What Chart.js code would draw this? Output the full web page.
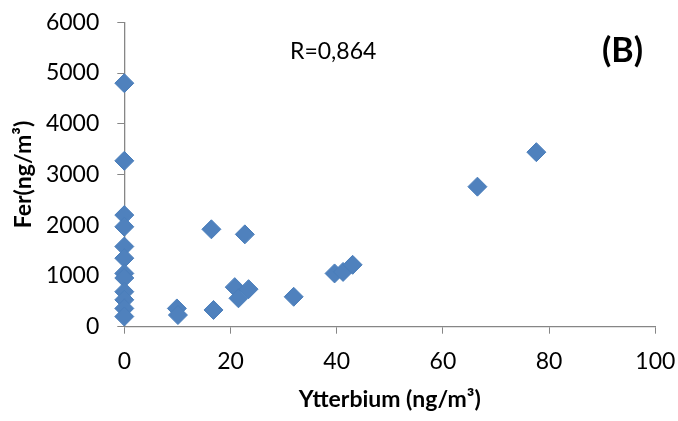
<!DOCTYPE html>
<html>
<head>
<meta charset="utf-8">
<style>
  html, body { margin: 0; padding: 0; background: #fff; }
  #wrap { width: 678px; height: 421px; }
</style>
<script src="https://cdn.jsdelivr.net/npm/chart.js"></script>
</head>
<body>
<div id="wrap"><canvas id="chart" width="678" height="421"></canvas></div>
<script>
// Ytterbium vs iron concentrations (ng/m3)
const ytterbium = [
    0, 0, 0, 0, 0, 0, 0, 0, 0, 0, 0, 0,
    9.9, 10.1, 16.4, 16.8, 22.7, 20.8, 21.5, 23.4, 31.9,
    39.6, 41.2, 43.0, 66.5, 77.6
];
const fer = [
    4800, 3270, 2200, 1970, 1580, 1350, 1050, 960, 690, 530, 360, 200,
    360, 230, 1920, 330, 1820, 780, 560, 740, 590,
    1050, 1080, 1220, 2760, 3440
];
const xTicks = [0, 20, 40, 60, 80, 100];
const yTicks = [0, 1000, 2000, 3000, 4000, 5000, 6000];
const correlation = 'R=0,864';
const panel = '(B)';

const FONT = 'Lato, "Open Sans", sans-serif';
const AXIS = '#868686';

const points = ytterbium.map((x, i) => ({x: x, y: fer[i]}));

// free-standing labels over the plot
const labelsPlugin = {
    id: 'panelLabels',
    afterDraw(chart) {
        const ctx = chart.ctx;
        ctx.save();
        ctx.fillStyle = '#000';
        ctx.textBaseline = 'middle';
        ctx.textAlign = 'left';
        ctx.font = '23px ' + FONT;
        ctx.fillText(correlation, 290, 52);
        ctx.font = 'bold 34px ' + FONT;
        ctx.fillText(panel, 602, 51);
        ctx.restore();
    }
};

function init() {
    const context = document.getElementById('chart');

    new Chart(context, {
        type: 'scatter',
        data: {
            datasets: [{
                label: 'Fer',
                data: points,
                clip: false,
                pointStyle: 'rectRot',
                pointRadius: 9.5,
                pointHoverRadius: 9.5,
                backgroundColor: '#4F81BD',
                borderColor: '#4A7EBB',
                borderWidth: 1
            }]
        },
        options: {
            responsive: false,
            animation: false,
            layout: {
                padding: {top: 22.3, right: 22.7, left: 0, bottom: 0}
            },
            plugins: {
                legend: {display: false},
                tooltip: {enabled: false}
            },
            scales: {
                x: {
                    type: 'linear',
                    min: xTicks[0],
                    max: xTicks[xTicks.length - 1],
                    afterBuildTicks: scale => {
                        scale.ticks = xTicks.map(v => ({value: v}));
                    },
                    afterFit: scale => {
                        scale.height = 94.3;
                        scale.paddingLeft = 0;
                        scale.paddingRight = 0;
                    },
                    grid: {
                        drawOnChartArea: false,
                        drawTicks: true,
                        tickLength: 7,
                        color: AXIS
                    },
                    border: {color: AXIS, width: 1.3},
                    ticks: {
                        color: '#000',
                        padding: 14,
                        font: {family: FONT, size: 23},
                        callback: v => String(v)
                    },
                    title: {
                        display: true,
                        text: 'Ytterbium (ng/m³)',
                        color: '#000',
                        padding: {top: 0, bottom: 8},
                        font: {family: FONT, size: 23, weight: 'bold'}
                    }
                },
                y: {
                    type: 'linear',
                    min: yTicks[0],
                    max: yTicks[yTicks.length - 1],
                    afterBuildTicks: scale => {
                        scale.ticks = yTicks.map(v => ({value: v}));
                    },
                    afterFit: scale => {
                        scale.width = 124.3;
                        scale.paddingTop = 0;
                        scale.paddingBottom = 0;
                    },
                    grid: {
                        drawOnChartArea: false,
                        drawTicks: true,
                        tickLength: 7,
                        color: AXIS
                    },
                    border: {color: AXIS, width: 1.3},
                    ticks: {
                        color: '#000',
                        padding: 18,
                        font: {family: FONT, size: 23},
                        callback: v => String(v)
                    },
                    title: {
                        display: true,
                        text: 'Fer(ng/m³)',
                        color: '#000',
                        padding: {top: 10, bottom: 0},
                        font: {family: FONT, size: 23, weight: 'bold'}
                    }
                }
            }
        },
        plugins: [labelsPlugin]
    });
}

init();
</script>
</body>
</html>
